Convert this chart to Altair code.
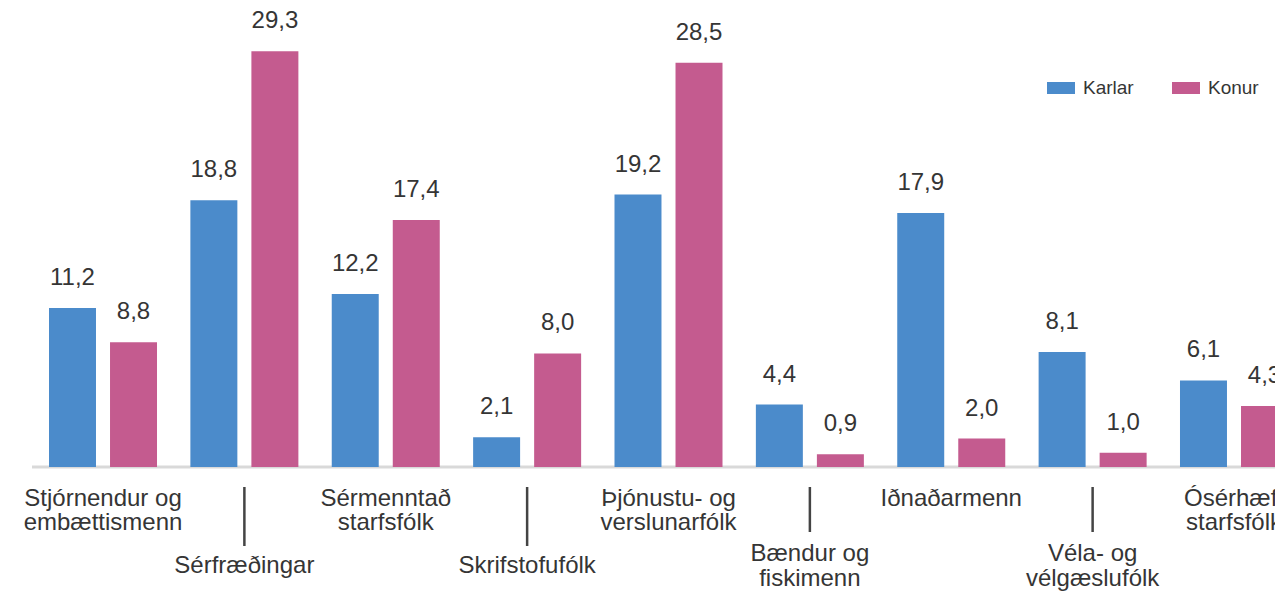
import altair as alt
import pandas as pd

categories = [
    "Stjórnendur og embættismenn",
    "Sérfræðingar",
    "Sérmenntað starfsfólk",
    "Skrifstofufólk",
    "Þjónustu- og verslunarfólk",
    "Bændur og fiskimenn",
    "Iðnaðarmenn",
    "Véla- og vélgæslufólk",
    "Ósérhæft starfsfólk",
]
label_lines = [
    "Stjórnendur og\nembættismenn",
    "Sérfræðingar",
    "Sérmenntað\nstarfsfólk",
    "Skrifstofufólk",
    "Þjónustu- og\nverslunarfólk",
    "Bændur og\nfiskimenn",
    "Iðnaðarmenn",
    "Véla- og\nvélgæslufólk",
    "Ósérhæft\nstarfsfólk",
]
karlar = [11.2, 18.8, 12.2, 2.1, 19.2, 4.4, 17.9, 8.1, 6.1]
konur = [8.8, 29.3, 17.4, 8.0, 28.5, 0.9, 2.0, 1.0, 4.3]
series = ["Karlar", "Konur"]
colors = ["#4b8bcb", "#c45b8f"]

rows = []
for c, k, w in zip(categories, karlar, konur):
    rows.append({"cat": c, "sex": "Karlar", "v": k, "lbl": f"{k:.1f}".replace(".", ",")})
    rows.append({"cat": c, "sex": "Konur", "v": w, "lbl": f"{w:.1f}".replace(".", ",")})
df = pd.DataFrame(rows)

cat_df = pd.DataFrame({"cat": categories, "text": label_lines, "i": list(range(len(categories)))})
cat_df["multi"] = cat_df["text"].str.contains("\n")
row1 = cat_df[cat_df["i"] % 2 == 0]
row2 = cat_df[cat_df["i"] % 2 == 1]
row2_single = row2[~row2["multi"]]
row2_multi = row2[row2["multi"]]

W, H = 1267, 459
FONT = "Liberation Sans"
TXT = "#353535"

x_enc = alt.X("cat:N", sort=categories, axis=None,
              scale=alt.Scale(range=[41, 1280], paddingInner=0.236, paddingOuter=0, round=False))
xo_enc = alt.XOffset("sex:N", sort=series,
                     scale=alt.Scale(paddingInner=0.23, paddingOuter=0, round=False))
y_enc = alt.Y("v:Q", axis=None, scale=alt.Scale(domain=[0, 32.35], nice=False, zero=True))

bars = alt.Chart(df).mark_bar(clip=True).encode(
    x=x_enc, xOffset=xo_enc, y=y_enc,
    color=alt.Color("sex:N", sort=series,
                    scale=alt.Scale(domain=series, range=colors),
                    legend=alt.Legend(title=None, orient="none", legendX=1039, legendY=66,
                                      direction="horizontal",
                                      symbolType="M-1,-0.43H1V0.43H-1Z", symbolSize=784,
                                      symbolStrokeWidth=0, symbolOpacity=1,
                                      labelFont=FONT, labelFontSize=19, labelColor=TXT,
                                      labelOffset=8, columnPadding=38, padding=0)),
)

values = alt.Chart(df).mark_text(font=FONT, fontSize=24, color=TXT,
                                 baseline="alphabetic", dy=-23).encode(
    x=x_enc, xOffset=xo_enc, y=y_enc, text="lbl:N")

base = alt.Chart(pd.DataFrame({"v": [0]})).mark_rule(color="#d9d9d9", strokeWidth=3).encode(
    y=y_enc, x=alt.value(24), x2=alt.value(W))

lab1 = alt.Chart(row1).mark_text(font=FONT, fontSize=24, color=TXT, baseline="alphabetic",
                                 lineBreak="\n", lineHeight=24).encode(
    x=x_enc, y=alt.value(498), text="text:N")

lab2s = alt.Chart(row2_single).mark_text(font=FONT, fontSize=24, color=TXT, baseline="alphabetic",
                                         lineBreak="\n", lineHeight=24).encode(
    x=x_enc, y=alt.value(565), text="text:N")

lab2m = alt.Chart(row2_multi).mark_text(font=FONT, fontSize=24, color=TXT, baseline="alphabetic",
                                        lineBreak="\n", lineHeight=25).encode(
    x=x_enc, y=alt.value(553), text="text:N")

ticks_s = alt.Chart(row2_single).mark_rule(color="#444444", strokeWidth=2.5).encode(
    x=x_enc, y=alt.value(479), y2=alt.value(538))

ticks_m = alt.Chart(row2_multi).mark_rule(color="#444444", strokeWidth=2.5).encode(
    x=x_enc, y=alt.value(479), y2=alt.value(524))

chart = alt.layer(base, bars, values, lab1, lab2s, lab2m, ticks_s, ticks_m).properties(
    width=W, height=H,
    autosize=alt.AutoSizeParams(type="none"),
    padding={"left": 0, "top": 0, "right": 0, "bottom": 126},
    background="white",
).configure_view(stroke=None)

chart.save("out.html", embed_options={"renderer": "svg", "actions": False})
